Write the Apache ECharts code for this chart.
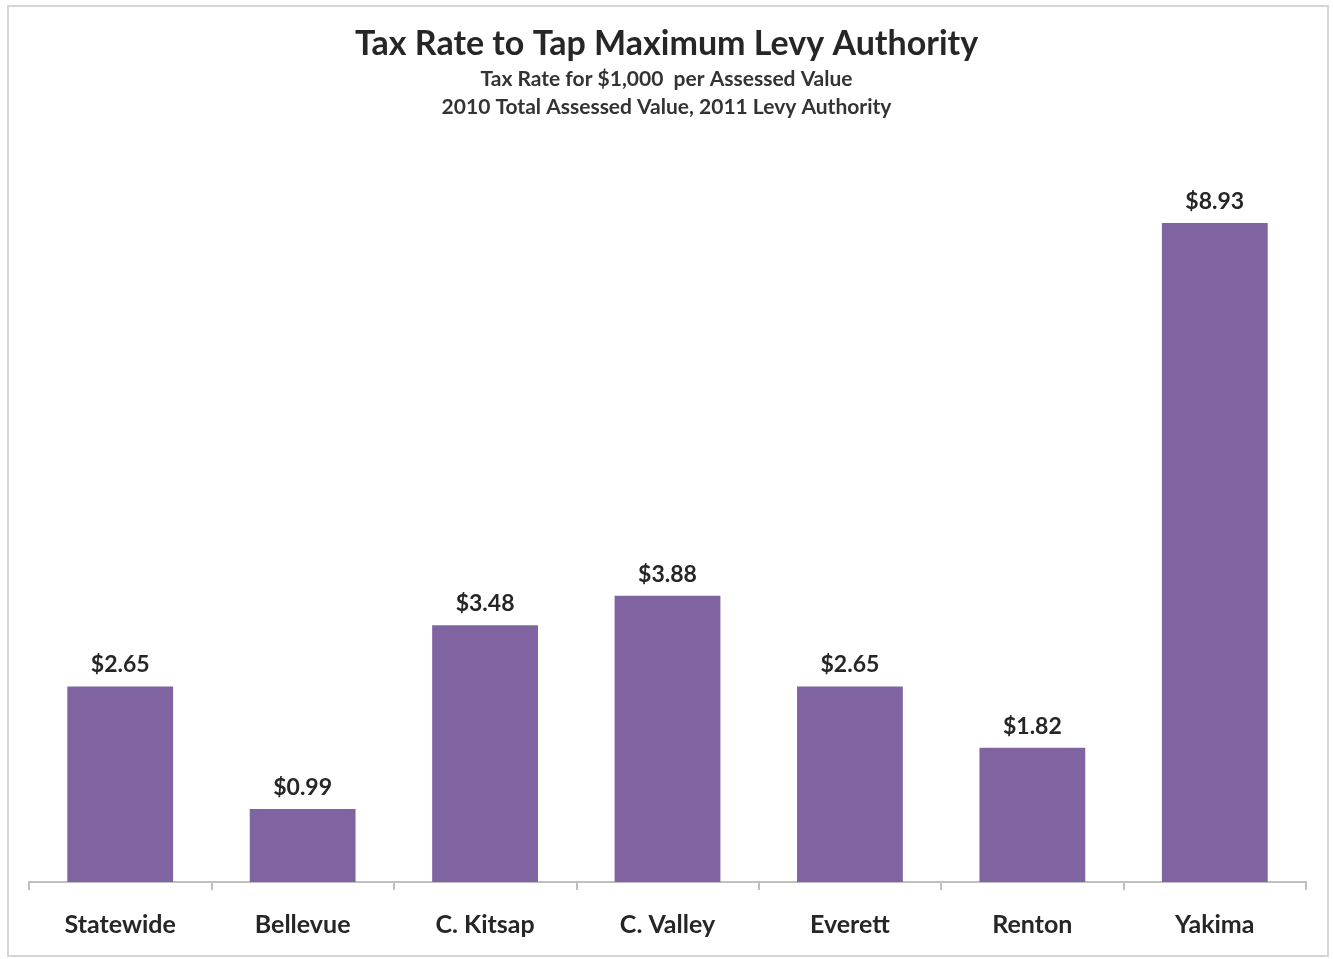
<!DOCTYPE html>
<html>
<head>
<meta charset="utf-8">
<script src="https://cdn.jsdelivr.net/npm/echarts@6/dist/echarts.min.js"></script>
<style>
  html, body { margin: 0; padding: 0; background: #fff; }
  #frame { position: absolute; left: 7px; top: 5px; width: 1318px; height: 948px;
           border: 2px solid #d6d6d6; box-sizing: content-box; }
  #chart { position: absolute; left: 0; top: 0; width: 1333px; height: 959px; }
</style>
</head>
<body>
<div id="frame"></div>
<div id="chart"></div>
<script>
// Levy authority tax rates (per $1,000 assessed value)
const categories = ['Statewide', 'Bellevue', 'C. Kitsap', 'C. Valley', 'Everett', 'Renton', 'Yakima'];
const rates = [2.65, 0.99, 3.48, 3.88, 2.65, 1.82, 8.93];

const titleText = 'Tax Rate to Tap Maximum Levy Authority';
const subtitleLines = ['Tax Rate for $1,000  per Assessed Value', '2010 Total Assessed Value, 2011 Levy Authority'];

const FONT = 'Lato, "Open Sans", sans-serif';
const chart = echarts.init(document.getElementById('chart'), null, { renderer: 'canvas' });

chart.setOption({
  backgroundColor: 'transparent',
  animation: false,
  title: {
    text: titleText,
    subtext: subtitleLines.join('\n'),
    left: 'center',
    top: 22,
    itemGap: 4,
    textStyle: { fontFamily: FONT, fontSize: 34, fontWeight: 'bold', color: '#262626' },
    subtextStyle: { fontFamily: FONT, fontSize: 21, fontWeight: 'bold', color: '#333', lineHeight: 28 }
  },
  grid: { left: 29, right: 27, top: 144, bottom: 77, containLabel: false },
  xAxis: {
    type: 'category',
    data: categories,
    axisLine: { lineStyle: { color: '#bfbfbf', width: 2 } },
    axisTick: { show: true, alignWithLabel: false, length: 8, lineStyle: { color: '#bfbfbf', width: 2 } },
    axisLabel: { fontFamily: FONT, fontSize: 25, fontWeight: 'bold', color: '#262626', margin: 30 }
  },
  yAxis: {
    type: 'value',
    min: 0,
    max: 10,
    show: false,
    splitLine: { show: false }
  },
  series: [{
    type: 'bar',
    data: rates,
    barWidth: '58%',
    itemStyle: { color: '#8064a2' },
    label: {
      show: true,
      position: 'top',
      distance: 10,
      formatter: p => '$' + p.value.toFixed(2),
      fontFamily: FONT,
      fontSize: 23,
      fontWeight: 'bold',
      color: '#262626'
    }
  }]
});
</script>
</body>
</html>
